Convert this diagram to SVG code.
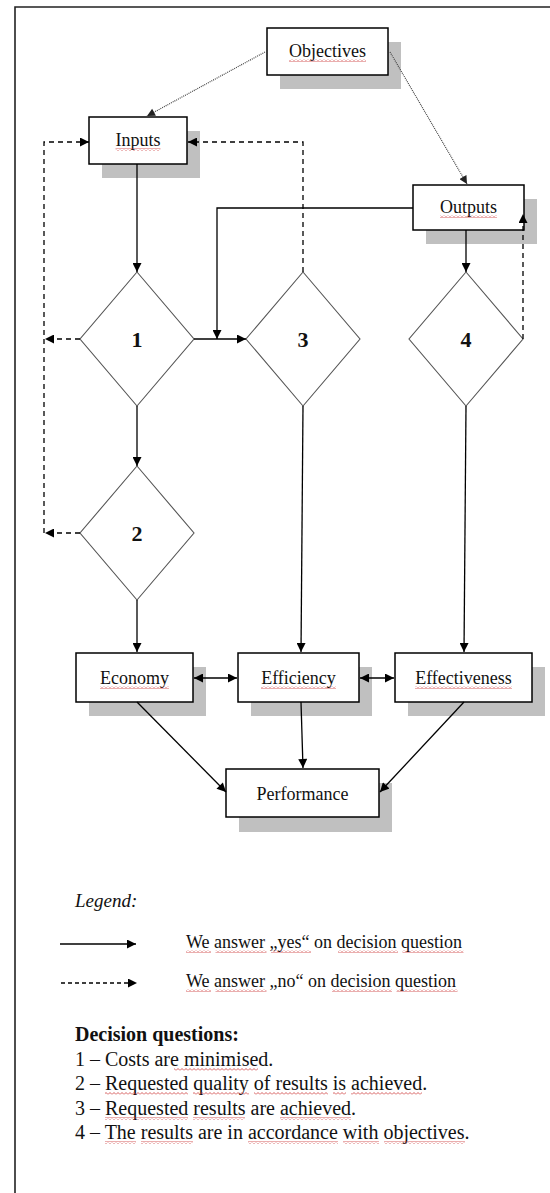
<svg xmlns="http://www.w3.org/2000/svg" width="550" height="1193" viewBox="0 0 550 1193">
<defs>
<style>
.box{fill:#fff;stroke:#000;stroke-width:1.5}
.sh{fill:#c0c0c0}
.dia{fill:#fff;stroke:#555;stroke-width:1.1}
.lbl{font-family:"Liberation Serif","Times New Roman",serif;font-size:18px;fill:#111;text-anchor:middle}
.num{font-family:"Liberation Serif","Times New Roman",serif;font-size:22px;font-weight:bold;fill:#111;text-anchor:middle}
.c{fill:none;stroke:#000;stroke-width:1.3}
.dash{fill:none;stroke:#000;stroke-width:1.3;stroke-dasharray:5 4}
.dot{fill:none;stroke:#444;stroke-width:1.2;stroke-dasharray:1 1}
.txt{font-family:"Liberation Serif","Times New Roman",serif;fill:#111}
.wv{fill:url(#wavy)}
</style>
<marker id="ah" viewBox="0 0 10 10" refX="10" refY="5" markerWidth="10" markerHeight="9" markerUnits="userSpaceOnUse" orient="auto-start-reverse"><path d="M0,0 L10,5 L0,10 z" fill="#000"/></marker>
<marker id="ahg" viewBox="0 0 10 10" refX="10" refY="5" markerWidth="9" markerHeight="8" markerUnits="userSpaceOnUse" orient="auto"><path d="M0,0 L10,5 L0,10 z" fill="#222"/></marker>
<pattern id="wavy" x="0" y="0" width="4" height="3" patternUnits="userSpaceOnUse"><path d="M0,2.5 L2,0.5 L4,2.5" fill="none" stroke="#c33" stroke-width="0.8"/></pattern>
</defs>
<rect x="0" y="0" width="550" height="1193" fill="#fff"/>
<path d="M15,1193 V7 H550" fill="none" stroke="#222" stroke-width="1.6"/>

<g id="objectives">
<rect class="sh" x="280" y="42" width="121" height="47"/>
<rect class="box" x="267" y="28" width="121" height="47"/>
<text class="lbl" x="327.5" y="57">Objectives</text>
<rect class="wv" x="289" y="59" width="77" height="3"/>
</g>
<g id="inputs">
<rect class="sh" x="102" y="131" width="98" height="47"/>
<rect class="box" x="89" y="117" width="98" height="47"/>
<text class="lbl" x="138" y="146">Inputs</text>
<rect class="wv" x="115.5" y="148" width="45" height="3"/>
</g>
<g id="outputs">
<rect class="sh" x="426" y="199" width="111" height="45"/>
<rect class="box" x="413" y="185" width="111" height="45"/>
<text class="lbl" x="468.5" y="213">Outputs</text>
<rect class="wv" x="440" y="215" width="57" height="3"/>
</g>

<g id="d1"><polygon class="dia" points="137,272 194,339 137,406 80,339"/><text class="num" x="137" y="347">1</text></g>
<g id="d2"><polygon class="dia" points="137,466 194,533 137,600 80,533"/><text class="num" x="137" y="541">2</text></g>
<g id="d3"><polygon class="dia" points="303,272 360,339 303,406 246,339"/><text class="num" x="303" y="347">3</text></g>
<g id="d4"><polygon class="dia" points="466,272 523,339 466,406 409,339"/><text class="num" x="466" y="347">4</text></g>

<g id="economy">
<rect class="sh" x="89" y="667" width="117" height="49"/>
<rect class="box" x="76" y="653" width="117" height="49"/>
<text class="lbl" x="134.5" y="684">Economy</text>
<rect class="wv" x="100" y="686" width="69" height="3"/>
</g>
<g id="efficiency">
<rect class="sh" x="251" y="667" width="121" height="49"/>
<rect class="box" x="238" y="653" width="121" height="49"/>
<text class="lbl" x="298.5" y="684">Efficiency</text>
<rect class="wv" x="261" y="686" width="75" height="3"/>
</g>
<g id="effectiveness">
<rect class="sh" x="408" y="667" width="137" height="49"/>
<rect class="box" x="395" y="653" width="137" height="49"/>
<text class="lbl" x="463.5" y="684">Effectiveness</text>
<rect class="wv" x="415" y="686" width="97" height="3"/>
</g>
<g id="performance">
<rect class="sh" x="239" y="783" width="153" height="49"/>
<rect class="box" x="226" y="769" width="153" height="48"/>
<text class="lbl" x="302.5" y="800">Performance</text>
</g>

<g id="connectors">
<path class="dot" d="M265,52 L147,116" marker-end="url(#ahg)"/>
<path class="dot" d="M390,52 L467,184" marker-end="url(#ahg)"/>
<path class="c" d="M137,164 V272" marker-end="url(#ah)"/>
<path class="c" d="M194,339 H246" marker-end="url(#ah)"/>
<path class="c" d="M413,208 H217 V339" marker-end="url(#ah)"/>
<path class="c" d="M466,230 V272" marker-end="url(#ah)"/>
<path class="dash" d="M523,339 V214" marker-end="url(#ah)"/>
<path class="dash" d="M303,272 V142 H188" marker-end="url(#ah)"/>
<path class="dash" d="M80,339 H45" marker-end="url(#ah)"/>
<path class="dash" d="M80,533 H45" marker-end="url(#ah)"/>
<path class="dash" d="M44,533 V142 H89" marker-end="url(#ah)"/>
<path class="c" d="M137,406 V466" marker-end="url(#ah)"/>
<path class="c" d="M137,600 V652" marker-end="url(#ah)"/>
<path class="c" d="M303,406 L301,652" marker-end="url(#ah)"/>
<path class="c" d="M466,406 L464,652" marker-end="url(#ah)"/>
<path class="c" d="M194,678 H237" marker-start="url(#ah)" marker-end="url(#ah)"/>
<path class="c" d="M360,678 H394" marker-start="url(#ah)" marker-end="url(#ah)"/>
<path class="c" d="M137,702 L226,792" marker-end="url(#ah)"/>
<path class="c" d="M301,702 L303,768" marker-end="url(#ah)"/>
<path class="c" d="M464,702 L380,792" marker-end="url(#ah)"/>
</g>

<g id="legend">
<text class="txt" x="75" y="907" font-size="19" font-style="italic">Legend:</text>
<path class="c" d="M60,944 H136" stroke-width="1.6" marker-end="url(#ah)"/>
<path class="c" d="M61,983 H137" stroke-dasharray="4 3" marker-end="url(#ah)"/>
<text class="txt" x="186" y="948" font-size="18">We answer „yes“ on decision question</text>
<text class="txt" x="186" y="987" font-size="18">We answer „no“ on decision question</text>
<rect class="wv" x="186" y="950" width="25" height="3"/>
<rect class="wv" x="215.5" y="950" width="51" height="3"/>
<rect class="wv" x="271" y="950" width="40" height="3"/>
<rect class="wv" x="338" y="950" width="60" height="3"/>
<rect class="wv" x="402.5" y="950" width="61" height="3"/>
<rect class="wv" x="186" y="989" width="25" height="3"/>
<rect class="wv" x="215.5" y="989" width="51" height="3"/>
<rect class="wv" x="332" y="989" width="60" height="3"/>
<rect class="wv" x="396.5" y="989" width="61" height="3"/>
</g>

<g id="questions">
<text class="txt" x="75" y="1041" font-size="20" font-weight="bold">Decision questions:</text>
<text class="txt" x="75" y="1066" font-size="20">1 – Costs are minimised.</text>
<text class="txt" x="75" y="1090" font-size="20">2 – Requested quality of results is achieved.</text>
<text class="txt" x="75" y="1115" font-size="20">3 – Requested results are achieved.</text>
<text class="txt" x="75" y="1139" font-size="20">4 – The results are in accordance with objectives.</text>
<rect class="wv" x="174" y="1068" width="84" height="3"/>
<rect class="wv" x="105" y="1092" width="83" height="3"/>
<rect class="wv" x="193" y="1092" width="56" height="3"/>
<rect class="wv" x="254" y="1092" width="74" height="3"/>
<rect class="wv" x="333" y="1092" width="13" height="3"/>
<rect class="wv" x="351" y="1092" width="71" height="3"/>
<rect class="wv" x="105" y="1117" width="83" height="3"/>
<rect class="wv" x="193" y="1117" width="52" height="3"/>
<rect class="wv" x="280" y="1117" width="71" height="3"/>
<rect class="wv" x="105" y="1141" width="31" height="3"/>
<rect class="wv" x="141" y="1141" width="52" height="3"/>
<rect class="wv" x="248" y="1141" width="90" height="3"/>
<rect class="wv" x="343" y="1141" width="36" height="3"/>
<rect class="wv" x="384" y="1141" width="81" height="3"/>
</g>
</svg>
